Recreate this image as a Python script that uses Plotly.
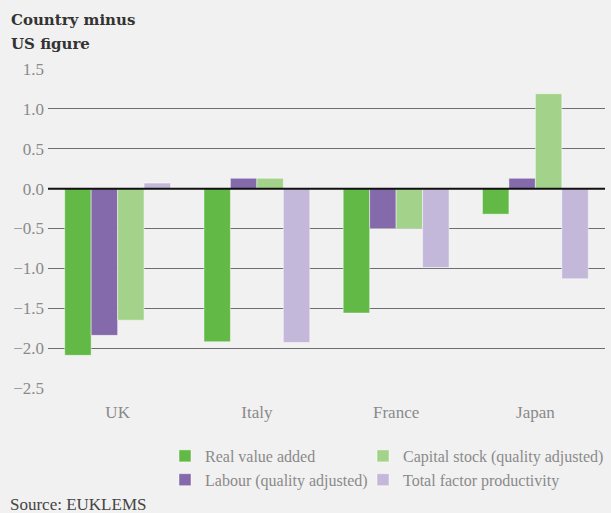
import plotly.graph_objects as go

countries = ["UK", "Italy", "France", "Japan"]
real_value_added = [-2.09, -1.92, -1.56, -0.32]
labour = [-1.84, 0.13, -0.50, 0.13]
capital_stock = [-1.65, 0.13, -0.50, 1.19]
tfp = [0.07, -1.93, -0.99, -1.13]

series = [
    ("Real value added", real_value_added, "#62b946", "legend"),
    ("Labour (quality adjusted)", labour, "#8469ab", "legend"),
    ("Capital stock (quality adjusted)", capital_stock, "#a3d38a", "legend2"),
    ("Total factor productivity", tfp, "#c3b8da", "legend2"),
]

TEXT_FONT = "Liberation Serif"
GREY = "#8a8a8a"

fig = go.Figure()
for name, vals, color, leg in series:
    fig.add_trace(go.Bar(
        x=countries, y=vals, name=name, legend=leg,
        marker=dict(color=color, line=dict(color="rgba(255,255,255,0.45)", width=1)),
    ))

# Solid zero line drawn over the bars
fig.add_shape(type="line", xref="paper", x0=0, x1=1, yref="y", y0=0, y1=0,
              line=dict(color="#111111", width=2), layer="above")

legend_style = dict(
    orientation="v", xref="container", xanchor="left",
    yref="container", y=1 - 439 / 513, yanchor="top",
    traceorder="normal", tracegroupgap=0,
    font=dict(family=TEXT_FONT, size=16, color=GREY),
    bgcolor="rgba(0,0,0,0)",
)

fig.update_layout(
    width=611, height=513,
    margin=dict(l=48, r=6, t=69, b=125, autoexpand=False),
    paper_bgcolor="#f1f1f1", plot_bgcolor="#f1f1f1",
    barmode="group", bargap=0.24, bargroupgap=0,
    showlegend=True,
    legend=dict(legend_style, x=165 / 611),
    legend2=dict(legend_style, x=363 / 611),
    xaxis=dict(
        showgrid=False, showline=False, ticks="", ticklabelstandoff=12,
        tickfont=dict(family=TEXT_FONT, size=17, color=GREY),
    ),
    yaxis=dict(
        range=[-2.5, 1.5], dtick=0.5, tickformat=".1f",
        showgrid=True, gridcolor="#6e6e6e", gridwidth=1.3,
        zeroline=False, showline=False, ticks="", ticklabelstandoff=3,
        tickfont=dict(family=TEXT_FONT, size=17, color=GREY),
    ),
    annotations=[
        dict(text="<b>Country minus</b>", xref="paper", yref="paper",
             x=-39 / 557, y=(388 - 9) / 319, xanchor="left", yanchor="top",
             align="left", showarrow=False,
             font=dict(family="DejaVu Serif", size=15, color="#333333")),
        dict(text="<b>US figure</b>", xref="paper", yref="paper",
             x=-39 / 557, y=(388 - 33) / 319, xanchor="left", yanchor="top",
             align="left", showarrow=False,
             font=dict(family="DejaVu Serif", size=15, color="#333333")),
        dict(text="Source: EUKLEMS", xref="paper", yref="paper",
             x=-40 / 557, y=(388 - 493) / 319, xanchor="left", yanchor="top",
             align="left", showarrow=False,
             font=dict(family=TEXT_FONT, size=17, color="#444444")),
    ],
)

fig.write_html("out.html")
